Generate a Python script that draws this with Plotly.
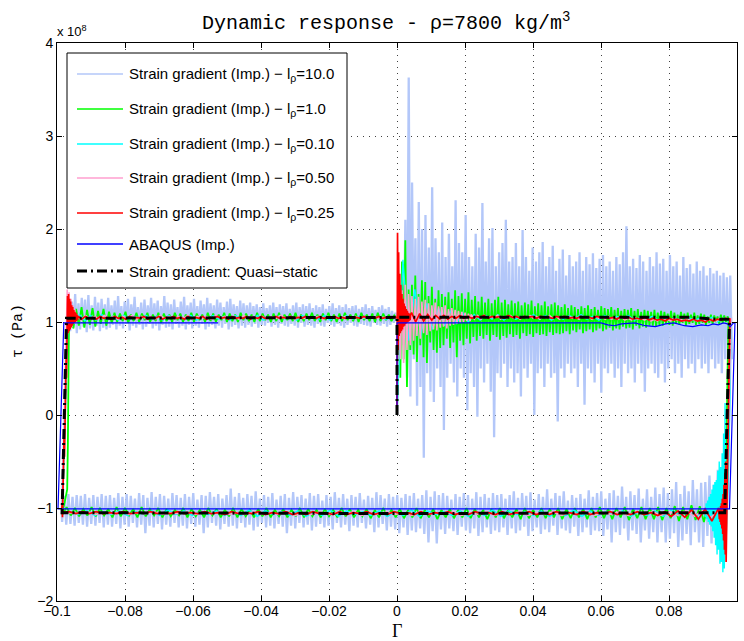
import numpy as np
import plotly.graph_objects as go

# Shear stress tau in MPa, shear strain Gamma (dimensionless).
# Each loop: loading at Gamma=0 -> plastic flow to the right -> unloading ->
# reversed flow to the left -> reloading -> forward flow back to Gamma=0.

# ---------------- l_rho = 10.0 ----------------
lb_load_span = [0.0, 0.0985]
lb_load = [0,
    118, 92, 140, 75, 210, 40, 363, 20, 250, 60, 190, 10, 229, 30, 200, -46, 215, 45, 180, 25,
    245, 14, 190, 50, 175, 30, 207, -16, 170, 40, 195, 55, 160, 35, 231, 20, 185, 50, 175, 40,
    215, 5, 170, 45, 160, 30, 195, -2, 180, 50, 228, 35, 165, 55, 190, 25, 201, -24, 160, 45,
    175, 40, 185, 55, 210, 30, 165, 50, 170, 35, 185, 45, 160, 20, 199, 50, 170, 40, 155, 55,
    180, 0, 165, 45, 175, 50, 186, 30, 160, 55, 170, 40, 182, 45, 155, -7, 168, 50, 178, 40,
    150, 55, 172, 45, 160, 50, 165, 30, 175, 55, 155, 11, 170, 50, 162, 45, 174, 35, 158, 55,
    168, 24, 172, 50, 160, 45, 165, 55, 155, 40, 170, 50, 162, 30, 175, 55, 203, 45, 160, 50,
    168, 35, 158, 55, 172, 45, 165, 25, 155, 50, 170, 55, 160, 45, 175, 40, 163, 55, 168, 35,
    155, 50, 172, 60, 160, 45, 165, 55, 150, 40, 170, 60, 158, 50, 162, 55, 152, 45, 165, 60,
    155, 50, 160, 55, 150, 45, 158, 60, 152, 50, 155, 55, 150, 45, 153, 60, 148, 55, 150, 60]
lb_unload_g = [0.0983, 0.0979, 0.0975, 0.0971]
lb_unload_t = [105, 30, -50, -100]
lb_rev_span = [0.0968, -0.0985]
lb_rev = [
    -60, -128, -70, -140, -59, -125, -75, -138, -65, -130, -72, -142,
    -73, -137, -80, -126, -70, -140, -82, -128, -76, -135, -85, -142, -72, -127, -80, -133,
    -84, -137, -78, -126,
    -85, -137, -78, -126, -88, -133, -80, -124, -90, -137, -79, -128, -86, -124, -82, -135,
    -88, -122, -77, -129, -87, -126, -81, -137, -84, -123, -90, -130, -82, -125,
    -84, -124, -88, -129, -81, -121, -90, -126, -85, -130, -89, -120, -86, -127, -92, -124,
    -82, -122, -87, -129, -84, -119, -90, -126, -80, -123, -88, -128, -85, -121, -91, -125,
    -83, -130, -87, -120, -84, -124, -89, -127, -82, -122, -86, -129, -90, -121, -85, -126,
    -86, -124, -84, -128, -89, -121, -85, -126, -88, -130, -83, -122, -90, -127, -86, -124,
    -84, -120, -88, -129, -85, -125, -91, -122, -87, -128, -84, -123, -86, -138, -82, -125,
    -88, -137, -81, -128, -86, -122, -90, -126, -84, -124, -87, -129, -85, -121, -89, -127,
    -86, -123,
    -88, -120, -85, -124, -90, -117, -86, -121, -83, -126, -89, -118, -87, -122, -91, -116,
    -84, -121, -88, -119, -86, -125, -90, -118, -85, -121, -89, -116, -83, -123, -88, -119,
    -86, -121, -92, -117, -85, -120, -87, -124, -84, -118, -90, -121, -86, -116, -88, -122,
    -83, -119, -89, -127, -85, -120, -87, -117, -91, -122, -84, -119, -88, -121, -86, -116,
    -90, -120, -82, -124, -87, -118, -85, -121, -89, -116, -84, -122, -88, -119, -79, -120,
    -86, -117, -90, -123, -85, -119, -88, -116, -83, -121, -87, -127, -86, -118, -91, -120,
    -84, -117, -88, -122, -85, -119, -89, -121, -86, -116, -84, -120, -90, -118, -87, -123,
    -85, -117, -88, -121, -83, -119, -89, -127, -86, -118, -84, -121, -90, -116, -87, -120,
    -85, -118, -88, -122, -84, -117, -89, -120, -86, -118, -87, -121, -85, -116, -88, -119,
    -86, -117, -89, -120, -85, -118, -87, -116, -86, -119, -88, -117, -85, -118, -87, -115]
lb_reload_g = [-0.0986, -0.0982, -0.0977, -0.0972, -0.0968]
lb_reload_t = [-105, -60, 10, 80, 110]
lb_fwd_span = [-0.0966, 0.0]
lb_fwd = [
    128, 90, 122, 94, 130, 88, 120, 92, 126, 95, 124, 89, 129, 93, 118, 91, 127, 96, 121, 90,
    125, 94, 119, 92,
    126, 94, 118, 97, 123, 92, 128, 96, 117, 93, 122, 98, 125, 91, 119, 96, 127, 94, 116, 97,
    121, 92, 124, 95, 118, 98, 126, 93, 120, 96, 123, 91, 117, 97, 128, 94, 121, 95, 119, 92,
    124, 98, 116, 94, 122, 96, 127, 92, 118, 97, 121, 93, 125, 96, 117, 94, 123, 98, 119, 92,
    126, 95, 120, 97, 118, 93, 124, 96, 121, 94, 116, 98, 122, 92, 125, 95, 119, 97, 117, 93,
    123, 96, 120, 94, 118, 97,
    121, 95, 117, 98, 119, 94, 116, 97, 120, 96, 115, 99, 118, 95, 121, 97, 116, 94, 119, 98,
    117, 96, 120, 95, 114, 98, 118, 96, 121, 94, 116, 99, 119, 95, 117, 97, 120, 96, 115, 94,
    118, 98, 116, 96, 119, 95, 114, 99, 117, 97, 120, 95, 115, 98, 118, 96, 116, 94, 119, 97,
    115, 99, 117, 96, 118, 95, 114, 98, 116, 97, 119, 96, 115, 95, 117, 99, 113, 97, 116, 96,
    118, 98, 114, 95, 116, 97, 112, 99, 110, 100]

# ---------------- l_rho = 1.0 ----------------
g_load_span = [0.0, 0.0977]
g_load = [0,
    140, 40, 165, 60, 188, 30, 135, 70,
    140, 65, 150, 57, 130, 75, 145, 62, 143, 56, 128, 78, 138, 70, 125, 67, 134, 72,
    130, 75, 127, 82, 132, 72, 125, 78, 134, 62, 128, 80, 131, 75, 125, 82, 132, 77,
    124, 84, 128, 80, 122, 85, 127, 82, 121, 86, 125, 80, 120, 86, 124, 84, 127, 81,
    121, 85, 124, 83, 119, 87, 123, 84, 120, 86, 122, 82, 118, 88, 121, 85, 119, 87,
    123, 84, 117, 88, 120, 86, 118, 87, 122, 85, 117, 89, 119, 86, 121, 88, 118, 87,
    116, 88, 119, 90, 115, 87, 118, 91, 116, 89, 114, 92, 117, 88, 115, 90, 118, 92,
    114, 89, 116, 91, 113, 93, 117, 90, 115, 92, 114, 94, 116, 91, 113, 93, 115, 92,
    112, 95, 114, 93, 113, 94, 115, 92, 112, 96, 114, 93, 111, 95, 113, 94, 112, 96,
    111, 96, 113, 95, 110, 97, 112, 96, 111, 98, 109, 97, 112, 96, 110, 98, 108, 97,
    111, 99, 109, 96, 110, 98, 108, 99, 110, 97, 107, 98, 109, 99, 108, 97, 106, 99,
    108, 98, 107, 100, 106, 98, 108, 99, 107, 100, 106, 101]
g_unload_g = [0.0975, 0.0972, 0.0968, 0.0966]
g_unload_t = [102, 40, -50, -98]
g_rev_span = [0.0964, -0.0984]
g_rev = [
    -96, -114, -99, -112, -95, -115, -98, -113, -97, -112, -99, -114, -98, -111, -100, -113,
    -99, -112,
    -100, -112, -99, -111, -101, -113, -99, -110, -100, -112, -101, -111, -99, -110, -100, -112,
    -101, -110, -100, -111, -101, -112, -100, -110, -101, -111, -100, -110, -102, -111, -100, -112,
    -101, -110, -102, -111, -100, -110, -101, -112, -102, -110, -101, -111, -100, -110, -102, -111,
    -101, -110, -102, -112, -101, -110, -102, -111, -100, -110, -102, -111,
    -101, -110, -102, -109, -100, -110, -102, -111, -101, -109, -102, -110, -101, -109, -100, -110,
    -102, -109, -101, -110, -102, -109, -101, -110, -100, -109, -102, -110, -101, -109, -102, -110,
    -100, -109, -101, -110, -102, -109, -101, -110, -100, -109, -102, -110, -101, -108, -100, -110,
    -102, -109, -101, -110, -100, -108, -102, -109, -101, -110, -100, -108, -101, -109, -99, -110,
    -101, -108, -100, -109, -99, -110, -101, -108, -100, -109, -99, -108, -101, -109, -100, -108,
    -99, -107]
g_reload_g = [-0.0985, -0.0978, -0.0970, -0.0968, -0.0967, -0.0965, -0.0962]
g_reload_t = [-104, -95, -80, -30, 30, 90, 113]
g_fwd_span = [-0.0960, 0.0]
g_fwd = [
    117, 93, 114, 96, 116, 94, 113, 97, 115, 95, 112, 98, 114, 96, 111, 99,
    110, 100, 109, 101, 111, 99, 108, 101, 110, 100, 109, 102, 110, 100, 108, 101, 110, 99, 109, 101,
    108, 100, 110, 102, 109, 100, 108, 101, 110, 100, 109, 102, 108, 100, 110, 101, 109, 100, 108, 102,
    110, 100, 109, 101, 108, 100, 110, 102, 109, 101, 108, 100, 110, 101, 109, 102, 108, 100, 109, 101,
    110, 100, 108, 102, 109, 101, 110, 100, 108, 101, 109, 102, 110, 101, 108, 100, 109, 102, 110, 101,
    108, 100, 109, 101, 110, 102, 108, 101, 109, 100, 110, 102, 108, 101, 109, 100, 110, 101, 109, 102,
    108, 101, 107, 103]

# ---------------- l_rho = 0.10 ----------------
c_load_span = [0.0, 0.0978]
c_load = [0, 167, 80, 135, 85, 120, 92, 115, 96, 112, 98, 110, 100, 108, 102, 107, 103,
    108, 102, 107, 103, 106, 104, 108, 103, 107, 102, 106, 103, 107, 104, 108, 103, 106, 102,
    107, 103, 106, 104, 107, 102, 105, 103, 106, 102, 105, 103, 104, 101, 105, 102, 104, 101,
    105, 100, 104, 101]
c_unload_g = [0.0982, 0.0979, 0.0975, 0.0970]
c_unload_t = [100, 20, -60, -110]
c_osc_span = [0.0967, 0.0905]
c_osc = [-150, 13, -165, -20, -169, -41, -158, -56, -160, -50, -145, -60, -150, -70, -140,
    -72, -132, -75, -125, -80, -120, -85, -118, -88, -115, -92, -112, -95, -110, -100]
c_rev_span = [0.0902, -0.0984]
c_rev = [-103, -109, -104, -108, -102, -109, -103, -108, -104, -109, -103, -107, -104, -108,
    -103, -109, -102, -108, -104, -109, -103, -108, -104, -107, -103, -109, -102, -108, -104, -109,
    -103, -108, -104, -107, -103, -109, -102, -108, -104, -109, -103, -108, -104, -107, -103, -109,
    -102, -108, -104, -109, -103, -108, -104, -107, -103, -109, -102, -108, -104, -108, -103, -107,
    -104, -108, -103, -107, -102, -108, -103, -107, -104, -108, -103, -107, -104, -108, -103, -107,
    -104, -106]
c_reload_g = [-0.0985, -0.0979, -0.0973, -0.0969]
c_reload_t = [-105, -40, 50, 104]
c_fwd_span = [-0.0967, 0.0]
c_fwd = [110, 99, 108, 101, 107, 102, 108, 103, 106, 102, 107, 103, 106, 104, 107, 103,
    106, 102, 107, 104, 106, 103, 107, 102, 106, 104, 107, 103, 106, 102, 107, 104, 106, 103,
    107, 102, 106, 104, 107, 103, 106, 102, 107, 104, 106, 103, 107, 102, 106, 104, 107, 103,
    106, 104, 105, 104, 106, 103, 105, 104]

# ---------------- l_rho = 0.50 ----------------
p_load_a_span = [0.0, 0.0215]
p_load_a = [0, 150, 60, 134, 56, 140, 70, 130, 75, 128, 80, 125, 85, 127, 82, 122, 88, 124, 86,
    120, 90, 118, 92, 121, 91, 117, 94, 116, 95, 118, 93, 114, 96, 115, 97, 113, 98, 112, 99,
    111, 100, 110, 101, 109, 101]
p_load_b_span = [0.0218, 0.0978]
p_load_b = [108, 103, 107, 103, 107, 104, 106, 104, 107, 103, 106, 104, 107, 104, 106, 103,
    106, 104, 107, 104, 106, 103, 106, 104, 107, 104, 106, 103, 106, 104, 106, 104, 105, 103,
    106, 104, 105, 103, 106, 104, 105, 103, 106, 103, 105, 103, 105, 102, 104, 102, 105, 103,
    104, 102, 104, 101, 103, 101, 104, 102, 103, 101, 104, 102, 103, 101, 104, 102, 103, 101,
    103, 101, 104, 102, 103, 101, 104, 102, 104, 102]
p_unload_g = [0.0982, 0.0979, 0.0975, 0.0971, 0.0968]
p_unload_t = [104, 50, -20, -80, -110]
p_osc_span = [0.0967, 0.0950]
p_osc = [-120, -70, -130, -85, -120, -95, -115, -100, -110]
p_rev_span = [0.0948, -0.0984]
p_rev = [-102, -110, -103, -109, -103, -108, -104, -108, -104, -107, -104, -108, -104, -107,
    -105, -108, -104, -107, -105, -108, -104, -107, -105, -108, -104, -107, -105, -108, -104, -107,
    -105, -108, -104, -107, -105, -107, -104, -108, -105, -107, -104, -107, -105, -108, -104, -107,
    -105, -107, -104, -107, -105, -108, -104, -107, -105, -107, -104, -107, -105, -107, -104, -106,
    -105, -107, -104, -106, -105, -107, -104, -106, -105, -107, -104, -106, -105, -107, -104, -106,
    -105, -106]
p_reload_g = [-0.0985, -0.0980, -0.0975, -0.0971]
p_reload_t = [-104, -40, 40, 100]
p_fwd_a_span = [-0.0970, -0.0945]
p_fwd_a = [135, 88, 132, 92, 125, 95, 118, 98, 114, 100]
p_fwd_b_span = [-0.0943, 0.0]
p_fwd_b = [108, 102, 107, 103, 106, 103, 107, 104, 106, 103, 106, 104, 107, 103, 106, 104,
    106, 103, 107, 104, 106, 103, 106, 104, 107, 103, 106, 104, 106, 103, 107, 104, 106, 104,
    106, 103, 107, 104, 106, 104, 106, 103, 106, 104, 107, 104, 106, 103, 106, 104, 106, 104,
    106, 103, 106, 104, 105, 104, 106, 103, 106, 104, 105, 104, 106, 104, 105, 104, 106, 104]

# ---------------- l_rho = 0.25 ----------------
r_load_a_span = [0.0, 0.0040]
r_load_a = [0, 196, 70, 175, 85, 152, 88, 140, 90, 130, 92, 125, 95, 120, 96, 117, 98, 114,
    99, 112, 100, 110, 101, 109, 102, 108]
r_load_b_span = [0.0043, 0.0978]
r_load_b = [110, 100, 109, 101, 108, 102, 107, 103, 107, 103, 106, 104, 107, 104, 106, 104,
    106, 105, 107, 104, 106, 105, 106, 104, 107, 105, 106, 104, 106, 105, 106, 104, 106, 105,
    105, 104, 106, 105, 106, 104, 105, 104, 106, 105, 105, 104, 106, 105, 105, 104, 105, 103,
    106, 104, 105, 103, 104, 103, 105, 102, 104, 102, 103, 101, 104, 102, 103, 101, 102, 101,
    103, 101, 102, 100, 103, 101, 103, 102, 104, 103]
r_unload_g = [0.0979, 0.0977, 0.0974, 0.0971, 0.0969]
r_unload_t = [104, 60, 0, -45, -90]
r_osc_span = [0.0968, 0.0948]
r_osc = [-158, -50, -150, -62, -145, -75, -135, -85, -128, -90, -122, -95, -118, -98, -115,
    -100, -112]
r_rev_span = [0.0946, -0.0984]
r_rev = [-100, -114, -101, -112, -102, -110, -103, -109, -104, -108, -105, -107, -104, -107,
    -105, -107, -104, -106, -105, -107, -104, -107, -105, -106, -104, -107, -105, -107, -104, -106,
    -105, -107, -104, -107, -105, -106, -104, -107, -105, -107, -104, -106, -105, -107, -104, -107,
    -105, -106, -104, -107, -105, -107, -104, -106, -105, -107, -104, -107, -105, -106, -104, -107,
    -105, -107, -104, -106, -105, -107, -104, -106, -105, -106, -104, -107, -105, -106, -104, -106,
    -105, -106, -104, -106, -105, -106, -104, -106, -105, -106, -104, -106, -105, -106, -104, -106,
    -104, -106, -104, -105]
r_reload_g = [-0.0986, -0.0985, -0.0984, -0.0982, -0.0981, -0.0979, -0.0978, -0.0976, -0.0975,
    -0.0973, -0.0972, -0.0971, -0.0970]
r_reload_t = [-106, -95, -110, -60, -80, -20, -45, 20, 0, 60, 40, 95, 80]
r_fwd_a_span = [-0.0969, -0.0940]
r_fwd_a = [128, 88, 130, 90, 125, 92, 122, 94, 118, 96, 116, 98, 113, 99, 111, 100, 110, 101,
    108, 102]
r_fwd_b_span = [-0.0938, 0.0]
r_fwd_b = [106, 103, 106, 104, 105, 103, 106, 104, 105, 103, 106, 104, 105, 103, 106, 104,
    105, 104, 106, 103, 105, 104, 106, 103, 105, 104, 106, 104, 105, 103, 106, 104, 105, 104,
    106, 103, 105, 104, 106, 104, 105, 103, 106, 104, 105, 104, 106, 103, 105, 104, 106, 104,
    105, 104, 106, 104, 105, 104, 106, 104, 105, 104, 106, 104, 105, 104, 106, 104, 105, 104,
    106, 104, 105, 104, 106, 104, 105, 104, 106, 104, 105, 104, 106, 104, 105, 104, 105, 105]

# ---------------- ABAQUS (implicit) ----------------
ab_g = [0.0, 0.0, 0.0005, 0.0600, 0.0620, 0.0640, 0.0660, 0.0700, 0.0730, 0.0760, 0.0790,
    0.0815, 0.0845, 0.0870, 0.0895, 0.0915, 0.0930, 0.0945, 0.0960, 0.0972, 0.0980, 0.0990,
    0.0994, 0.0978, -0.0997, -0.0980, -0.0526]
ab_t = [0, 99, 99, 99, 97, 96, 98, 99, 96, 95, 98, 99, 96, 95, 97, 96, 98, 97, 99, 98, 95,
    99, 99, -101, -101, 99, 99]

# ---------------- Quasi-static strain gradient ----------------
qs_g = [0.0, 0.0, 0.0860, 0.0900, 0.0940, 0.0978, 0.0964, 0.0, -0.0985, -0.0972, 0.0]
qs_t = [0, 105, 105, 104, 103, 103, -105, -106, -105, 104, 105]

series_labels = [
    "Strain gradient (Imp.) \u2212 l<sub>\u03c1</sub>=10.0",
    "Strain gradient (Imp.) \u2212 l<sub>\u03c1</sub>=1.0",
    "Strain gradient (Imp.) \u2212 l<sub>\u03c1</sub>=0.10",
    "Strain gradient (Imp.) \u2212 l<sub>\u03c1</sub>=0.50",
    "Strain gradient (Imp.) \u2212 l<sub>\u03c1</sub>=0.25",
    "ABAQUS (Imp.)",
    "Strain gradient: Quasi\u2212static",
]
x_ticks = [-0.1, -0.08, -0.06, -0.04, -0.02, 0.0, 0.02, 0.04, 0.06, 0.08, 0.1]
x_tick_text = ["\u22120.1", "\u22120.08", "\u22120.06", "\u22120.04", "\u22120.02", "0",
               "0.02", "0.04", "0.06", "0.08", "0.1"]
y_ticks = [-2, -1, 0, 1, 2, 3, 4]          # in units of 1e8 Pa
y_tick_text = ["\u22122", "\u22121", "0", "1", "2", "3", "4"]


def uniform(span, taus):
    return np.linspace(span[0], span[1], len(taus)), np.asarray(taus, float)


def points(gs, taus):
    return np.asarray(gs, float), np.asarray(taus, float)


def path(*pieces):
    g = np.concatenate([p[0] for p in pieces])
    t = np.concatenate([p[1] for p in pieces]) * 1e6   # MPa -> Pa
    return g, t


curves = [
    path(uniform(lb_load_span, lb_load), points(lb_unload_g, lb_unload_t),
         uniform(lb_rev_span, lb_rev), points(lb_reload_g, lb_reload_t),
         uniform(lb_fwd_span, lb_fwd)),
    path(uniform(g_load_span, g_load), points(g_unload_g, g_unload_t),
         uniform(g_rev_span, g_rev), points(g_reload_g, g_reload_t),
         uniform(g_fwd_span, g_fwd)),
    path(uniform(c_load_span, c_load), points(c_unload_g, c_unload_t),
         uniform(c_osc_span, c_osc), uniform(c_rev_span, c_rev),
         points(c_reload_g, c_reload_t), uniform(c_fwd_span, c_fwd)),
    path(uniform(p_load_a_span, p_load_a), uniform(p_load_b_span, p_load_b),
         points(p_unload_g, p_unload_t), uniform(p_osc_span, p_osc),
         uniform(p_rev_span, p_rev), points(p_reload_g, p_reload_t),
         uniform(p_fwd_a_span, p_fwd_a), uniform(p_fwd_b_span, p_fwd_b)),
    path(uniform(r_load_a_span, r_load_a), uniform(r_load_b_span, r_load_b),
         points(r_unload_g, r_unload_t), uniform(r_osc_span, r_osc),
         uniform(r_rev_span, r_rev), points(r_reload_g, r_reload_t),
         uniform(r_fwd_a_span, r_fwd_a), uniform(r_fwd_b_span, r_fwd_b)),
    path(points(ab_g, ab_t)),
    path(points(qs_g, qs_t)),
]

styles = [
    dict(color="#b3c7f9", width=2.3),
    dict(color="#00ff00", width=1.8),
    dict(color="#00ffff", width=1.4),
    dict(color="#ff9fcf", width=1.6),
    dict(color="#ff0000", width=1.7),
    dict(color="#0000ff", width=1.2),
    dict(color="#000000", width=3, dash="10px,4px,2px,4px"),
]

fig = go.Figure()
for (g, t), st, name in zip(curves, styles, series_labels):
    fig.add_trace(go.Scatter(x=g, y=t, mode="lines", line=st, name=name,
                             showlegend=False, hoverinfo="skip"))

# plot area in pixels: x 57..737, y 43..601
L, R, T, B = 57, 737, 43, 601


def px_x(p):
    return (p - L) / (R - L)


def px_y(p):
    return (B - p) / (B - T)


shapes = [dict(type="rect", xref="paper", yref="paper",
               x0=px_x(67), x1=px_x(347), y0=px_y(288), y1=px_y(53),
               line=dict(color="black", width=1), fillcolor="white", layer="above")]
annotations = []
row_y = [74, 109, 144, 178, 213, 244, 271]
for yy, st, name in zip(row_y, styles, series_labels):
    sample = dict(color=st["color"], width=1.5)
    if "dash" in st:
        sample["dash"] = st["dash"]
        sample["width"] = st["width"]
    shapes.append(dict(type="line", xref="paper", yref="paper",
                       x0=px_x(77), x1=px_x(123), y0=px_y(yy), y1=px_y(yy),
                       line=sample, layer="above"))
    annotations.append(dict(xref="paper", yref="paper", x=px_x(127), y=px_y(yy),
                            xanchor="left", yanchor="middle", showarrow=False,
                            text=name, font=dict(family="Liberation Sans", size=15,
                                                 color="black")))

annotations += [
    dict(xref="paper", yref="paper", x=px_x(200), y=px_y(22), xanchor="left",
         yanchor="middle", showarrow=False,
         text="Dynamic response - \u03c1=7800 kg/m<sup>3</sup>",
         font=dict(family="Liberation Mono", size=20, color="black")),
    dict(xref="paper", yref="paper", x=px_x(55), y=px_y(31), xanchor="left",
         yanchor="middle", showarrow=False, text="x 10<sup>8</sup>",
         font=dict(family="Liberation Sans", size=13, color="black")),
    dict(xref="paper", yref="paper", x=px_x(18), y=px_y(331), xanchor="center",
         yanchor="middle", showarrow=False, text="\u03c4 (Pa)", textangle=-90,
         font=dict(family="Liberation Mono", size=15, color="black")),
    dict(xref="paper", yref="paper", x=px_x(397), y=px_y(631), xanchor="center",
         yanchor="middle", showarrow=False, text="\u0393",
         font=dict(family="Liberation Serif", size=18, color="black")),
]

axis_common = dict(showline=True, linecolor="black", linewidth=1, mirror="allticks",
                   ticks="inside", ticklen=5, tickcolor="black", tickwidth=1,
                   showgrid=True, gridcolor="rgba(0,0,0,0.75)", gridwidth=1,
                   griddash="1px,5px", zeroline=False,
                   tickfont=dict(family="Liberation Sans", size=14, color="black"))

fig.update_layout(
    width=744, height=641,
    margin=dict(l=L, r=744 - R, t=T, b=641 - B),
    paper_bgcolor="white", plot_bgcolor="white",
    showlegend=False,
    xaxis=dict(range=[-0.1, 0.1], tickvals=x_ticks, ticktext=x_tick_text,
               ticklabelstandoff=-3, **axis_common),
    yaxis=dict(range=[-2e8, 4e8], tickvals=[v * 1e8 for v in y_ticks],
               ticktext=y_tick_text, **axis_common),
    shapes=shapes,
    annotations=annotations,
)

fig.write_html("out.html")
